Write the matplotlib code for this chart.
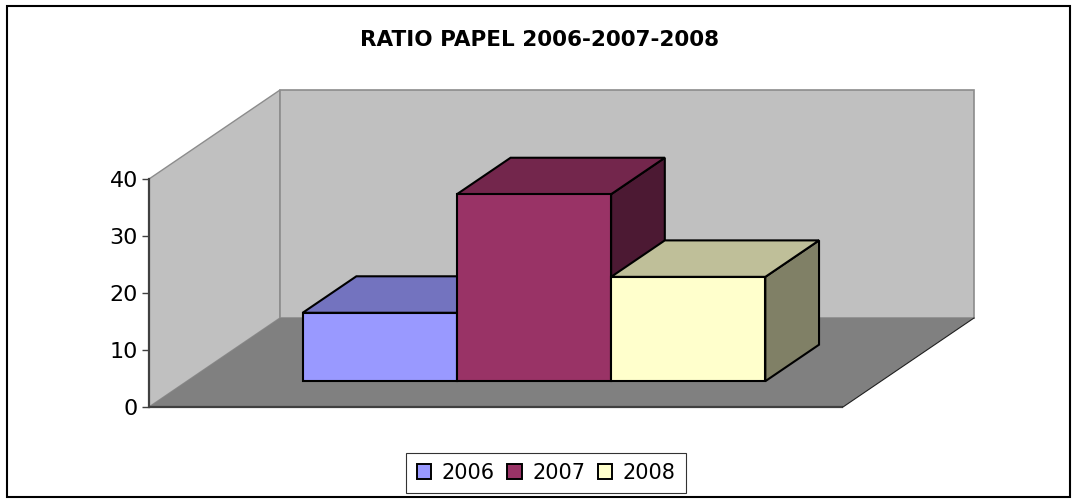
import matplotlib
matplotlib.use("Agg")
import matplotlib.pyplot as plt
from matplotlib.patches import Polygon, Rectangle, Patch

# ---- data ----
title = "RATIO PAPEL 2006-2007-2008"
series = ["2006", "2007", "2008"]
values = [12.0, 32.8, 18.3]
front_colors = ["#9999FF", "#993366", "#FFFFCC"]
top_colors = ["#7373BF", "#73264C", "#BFBF99"]
side_colors = ["#4C4C80", "#4C1933", "#808066"]
yticks = [0, 10, 20, 30, 40]
ymax = 40

plt.rcParams['font.family'] = ['DejaVu Sans']

W, H = 1077, 500
fig = plt.figure(figsize=(W / 100, H / 100), dpi=100)

# ---- layout (pixels) ----
px0, py0 = 149, 407          # front-left origin of plot
floor_w = 694                # front floor width
DXpx, DYpx = 131, 89         # depth offset
ppu = (407 - 179) / 40.0     # pixels per value unit

ax = fig.add_axes([px0 / W, (H - py0) / H,
                   (floor_w + DXpx) / W, (ymax * ppu + DYpx) / H])
DX = DXpx / floor_w
DY = DYpx / ppu
ax.set_xlim(0, 1 + DX)
ax.set_ylim(0, ymax + DY)


def proj(x, v, d):
    return (x + d * DX, v + d * DY)


def poly(pts, fc, ec, lw, z):
    ax.add_patch(Polygon([proj(*p) for p in pts], closed=True, facecolor=fc,
                         edgecolor=ec, linewidth=lw, zorder=z, clip_on=False,
                         joinstyle='miter'))


wall = "#C0C0C0"
floor = "#808080"
edge = "#8C8C8C"
# left wall
poly([(0, 0, 0), (0, 0, 1), (0, ymax, 1), (0, ymax, 0)], wall, edge, 1.0, 1)
# back wall
poly([(0, 0, 1), (1, 0, 1), (1, ymax, 1), (0, ymax, 1)], wall, edge, 1.2, 1)
# floor
poly([(0, 0, 0), (1, 0, 0), (1, 0, 1), (0, 0, 1)], floor, "none", 0, 2)
x_fr = [proj(0, 0, 0)[0], proj(1, 0, 0)[0], proj(1, 0, 1)[0]]
y_fr = [proj(0, 0, 0)[1], proj(1, 0, 0)[1], proj(1, 0, 1)[1]]
ax.plot(x_fr[:2], y_fr[:2], color="#404040", lw=1.6, zorder=3, clip_on=False,
        solid_capstyle='butt')
ax.plot(x_fr[1:], y_fr[1:], color="#202020", lw=0.8, zorder=3, clip_on=False)

# ---- bars ----
n = len(values)
gap = 1.5
bw = 1.0 / (n + gap)
x_start = gap * bw / 2
d0, d1 = 0.29, 0.70
for i, v in enumerate(values):
    xa = x_start + i * bw
    xb = xa + bw
    z = 5 + i
    # right side
    poly([(xb, 0, d0), (xb, 0, d1), (xb, v, d1), (xb, v, d0)], side_colors[i], "black", 1.5, z)
    # top
    poly([(xa, v, d0), (xb, v, d0), (xb, v, d1), (xa, v, d1)], top_colors[i], "black", 1.5, z)
    # front
    poly([(xa, 0, d0), (xb, 0, d0), (xb, v, d0), (xa, v, d0)], front_colors[i], "black", 1.5, z)

# ---- axis ----
for s in ["top", "right", "bottom"]:
    ax.spines[s].set_visible(False)
ax.spines["left"].set_bounds(0, ymax)
ax.spines["left"].set_color("#404040")
ax.spines["left"].set_linewidth(1.6)
ax.spines["left"].set_zorder(4)
ax.set_yticks(yticks)
ax.set_yticklabels([str(t) for t in yticks])
ax.tick_params(axis="y", direction="out", length=5, width=1.0, color="#404040",
               labelsize=16, pad=3)
ax.set_xticks([])
ax.patch.set_visible(False)

# ---- title ----
fig.text(0.501, 0.92, title, ha="center", va="center", fontsize=15.5,
         fontweight="bold")

# ---- legend ----
handles = [Patch(facecolor=c, edgecolor="black", linewidth=1.4) for c in front_colors]
leg = fig.legend(handles, series, loc="center", bbox_to_anchor=(0.507, 0.054),
                 ncol=3, frameon=True, fancybox=False, edgecolor="black",
                 fontsize=15, handlelength=0.7, handleheight=0.7,
                 handletextpad=0.5, columnspacing=0.6, borderpad=0.5,
                 borderaxespad=0)
leg.get_frame().set_linewidth(0.8)

# ---- outer border ----
fig.patches.append(Rectangle((7 / W, 1 - 497 / H), (1070 - 7) / W, (497 - 6) / H,
                             transform=fig.transFigure, fill=False,
                             edgecolor="black", linewidth=1.5))

fig.savefig("out.png", dpi=100)
